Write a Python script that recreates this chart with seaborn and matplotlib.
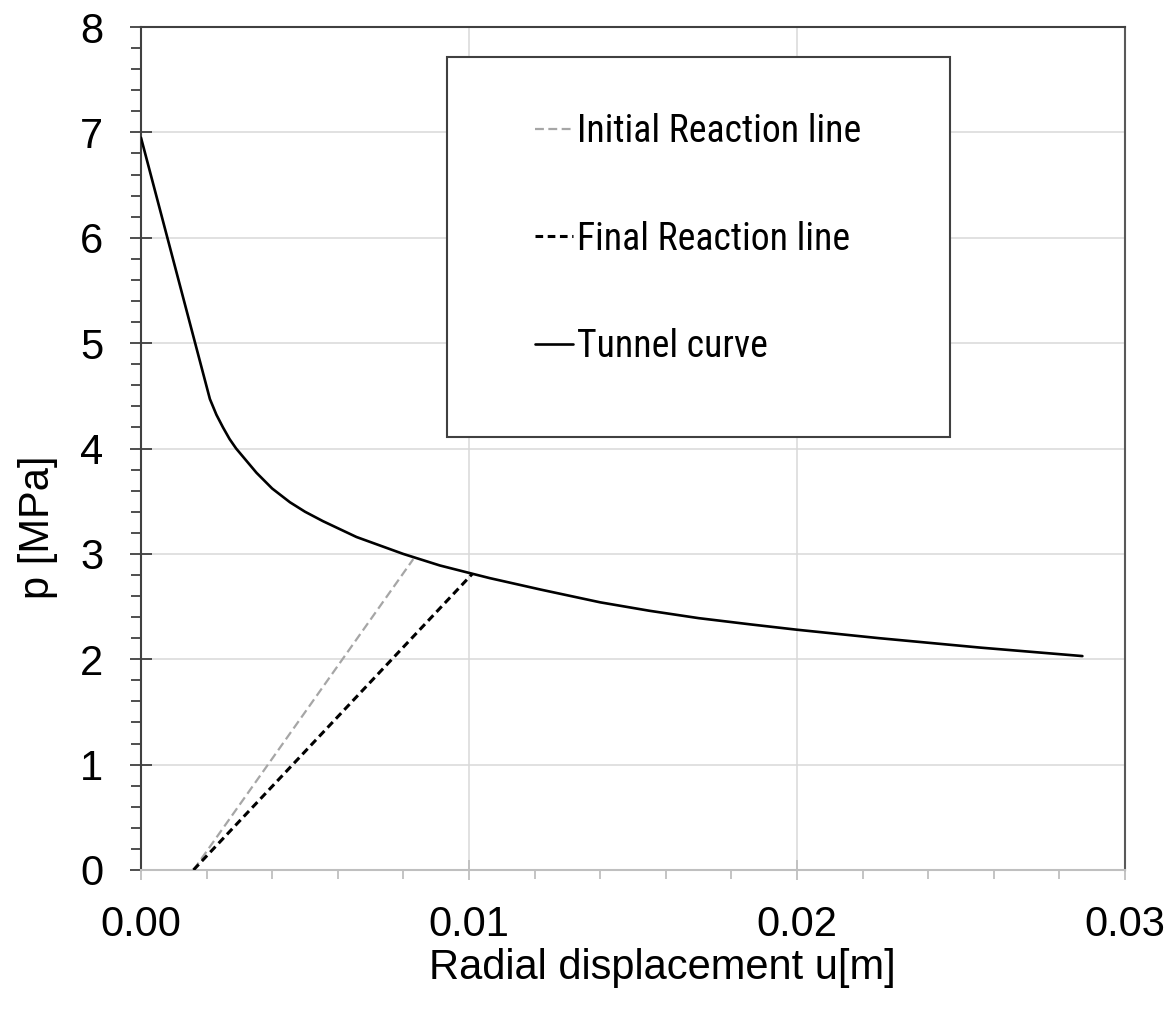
import matplotlib
matplotlib.use("Agg")
import matplotlib.pyplot as plt
from matplotlib import font_manager
from matplotlib.font_manager import FontProperties
from matplotlib.patches import Rectangle
from matplotlib.ticker import MultipleLocator, FormatStrFormatter
import seaborn as sns
import pandas as pd

# Ground reaction (tunnel) curve: radial displacement [m] vs support pressure [MPa]
u_tunnel = [0.0, 0.0021, 0.0023, 0.0025, 0.0027, 0.0029, 0.00352, 0.0040,
            0.00454, 0.0050, 0.00555, 0.00657, 0.00799, 0.00911, 0.01012,
            0.01063, 0.0122, 0.0131, 0.0140, 0.0155, 0.0170, 0.0186, 0.0200,
            0.0225, 0.0256, 0.0287]
p_tunnel = [6.95, 4.47, 4.32, 4.20, 4.09, 4.00, 3.77, 3.62,
            3.49, 3.40, 3.31, 3.16, 3.00, 2.89, 2.81,
            2.77, 2.66, 2.60, 2.54, 2.46, 2.39, 2.33, 2.28,
            2.20, 2.11, 2.03]

# Support reaction lines
u_initial = [0.0016, 0.0083]
p_initial = [0.0, 2.95]
u_final = [0.0016, 0.0101]
p_final = [0.0, 2.81]

labels = ["Initial Reaction line", "Final Reaction line", "Tunnel curve"]

sns.set_style("white")
plt.rcParams["font.family"] = ["Liberation Sans", "DejaVu Sans"]
plt.rcParams["text.color"] = "black"
plt.rcParams["axes.labelcolor"] = "black"

# Narrow face for the legend when one is installed
legend_fname = None
for wanted in ("Liberation Sans Narrow", "Arial Narrow", "Roboto Condensed"):
    for f in font_manager.fontManager.ttflist:
        if f.name == wanted and f.weight in (400, "normal", "regular") and f.style == "normal":
            legend_fname = f.fname
            break
    if legend_fname:
        break


def legend_font(size):
    if legend_fname:
        return FontProperties(fname=legend_fname, size=size)
    return FontProperties(family="Liberation Sans", size=size)


FIG_W, FIG_H, DPI = 11.74, 10.13, 100
fig = plt.figure(figsize=(FIG_W, FIG_H), dpi=DPI)
ax = fig.add_axes([0.1201, 0.1412, 0.8382, 0.8321])

df_t = pd.DataFrame({"u": u_tunnel, "p": p_tunnel})
df_i = pd.DataFrame({"u": u_initial, "p": p_initial})
df_f = pd.DataFrame({"u": u_final, "p": p_final})

sns.lineplot(data=df_i, x="u", y="p", ax=ax, color="#a6a6a6", lw=1.6,
             linestyle=(0, (4, 2)), sort=False, estimator=None, zorder=3)
sns.lineplot(data=df_f, x="u", y="p", ax=ax, color="black", lw=2.2,
             linestyle=(0, (2.5, 1.5)), sort=False, estimator=None, zorder=3)
sns.lineplot(data=df_t, x="u", y="p", ax=ax, color="black", lw=1.9,
             sort=False, estimator=None, zorder=4)

ax.set_xlim(0, 0.03)
ax.set_ylim(0, 8)

# Grid and ticks
ax.set_axisbelow(True)
ax.grid(True, which="major", color="#d9d9d9", lw=1.1)
ax.xaxis.set_major_locator(MultipleLocator(0.01))
ax.xaxis.set_minor_locator(MultipleLocator(0.002))
ax.xaxis.set_major_formatter(FormatStrFormatter("%.2f"))
ax.yaxis.set_major_locator(MultipleLocator(1))
ax.yaxis.set_minor_locator(MultipleLocator(0.2))
ax.yaxis.set_major_formatter(FormatStrFormatter("%d"))

ax.tick_params(axis="y", which="major", direction="inout", length=16, width=1.3,
               color="#404040", pad=19, labelsize=30, labelcolor="black", left=True)
ax.tick_params(axis="y", which="minor", direction="out", length=7.5, width=1.3,
               color="#404040", left=True)
ax.tick_params(axis="x", which="major", direction="inout", length=15, width=1.3,
               color="#bfbfbf", pad=18, labelsize=30, labelcolor="black", bottom=True)
ax.tick_params(axis="x", which="minor", direction="out", length=6.5, width=1.3,
               color="#bfbfbf", bottom=True)

for side, col in [("left", "#404040"), ("top", "#404040"),
                  ("right", "#595959"), ("bottom", "#bfbfbf")]:
    ax.spines[side].set_visible(True)
    ax.spines[side].set_color(col)
    ax.spines[side].set_linewidth(1.5)

ax.set_xlabel("Radial displacement u[m]", fontsize=30, color="black")
ax.set_ylabel("p [MPa]", fontsize=30, color="black")
ax.xaxis.set_label_coords(0.53, -0.116)
ax.xaxis.label.set_va("center")
ax.yaxis.set_label_coords(-0.105, 0.407)
ax.yaxis.label.set_va("center")

# Legend box
ax.add_patch(Rectangle((0.311, 0.5136), 0.511, 0.4508, transform=ax.transAxes,
                       facecolor="white", edgecolor="#404040", lw=1.5, zorder=1))

handles = ax.get_lines()[:3]

# Legend layout targets in pixels: first label width, handle left edge, handle rows
TEXT_W, HANDLE_X0, ROW_Y = 284.0, 535.0, (129.0, 236.5, 343.5)
ax_w_px = 0.8382 * FIG_W * DPI
ax_h_px = 0.8321 * FIG_H * DPI

size, spacing, anchor = 27.0, 1.9, [0.4004, 0.9015]


def make_legend():
    lg = ax.legend(handles, labels, loc="upper left", bbox_to_anchor=tuple(anchor),
                   frameon=False, borderpad=0, borderaxespad=0, handlelength=1.0,
                   handletextpad=0.1, labelspacing=spacing, prop=legend_font(size))
    lg.set_zorder(5)
    for t in lg.get_texts():
        t.set_color("black")
    return lg


leg = make_legend()
for _ in range(5):
    fig.canvas.draw()
    r = fig.canvas.get_renderer()
    w = leg.get_texts()[0].get_window_extent(r).width
    hs = [h.get_window_extent(r) for h in leg.legend_handles]
    ys = [FIG_H * DPI - (b.y0 + b.y1) / 2 for b in hs]
    x0 = hs[0].x0
    size *= TEXT_W / w
    meas = (ys[2] - ys[0]) / 2
    target = (ROW_Y[2] - ROW_Y[0]) / 2
    spacing += (target - meas) / (size * DPI / 72)
    anchor[1] += (ys[0] - ROW_Y[0]) / ax_h_px
    anchor[0] -= (x0 - HANDLE_X0) / ax_w_px
    leg.remove()
    leg = make_legend()

fig.savefig("out.png", dpi=DPI, facecolor="white")
